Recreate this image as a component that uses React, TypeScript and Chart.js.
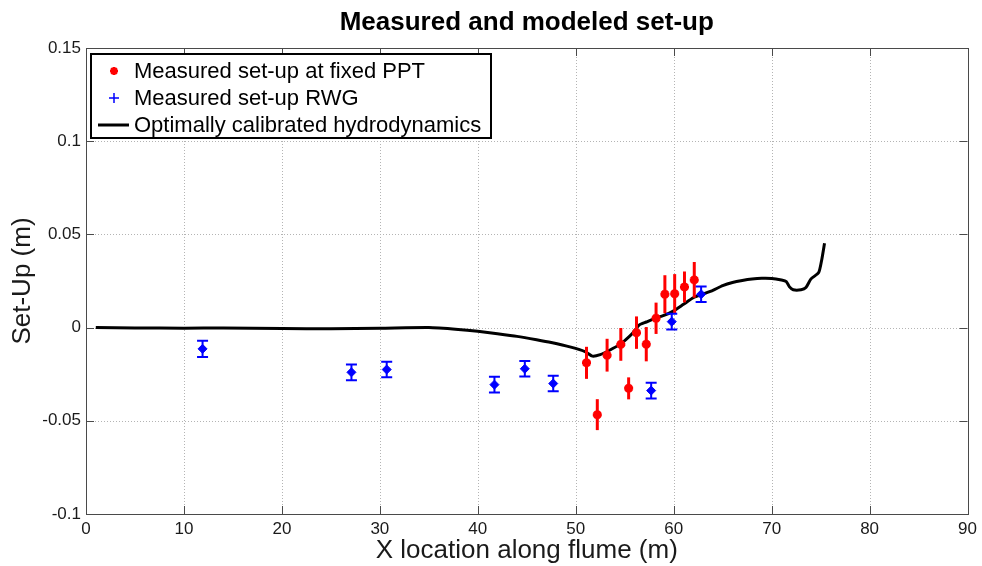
import React, { useEffect, useRef } from "react";
import { Chart, registerables } from "chart.js";

Chart.register(...registerables);

const TITLE = "Measured and modeled set-up";
const X_LABEL = "X location along flume (m)";
const Y_LABEL = "Set-Up (m)";
const LEGEND_LABELS = [
  "Measured set-up at fixed PPT",
  "Measured set-up RWG",
  "Optimally calibrated hydrodynamics",
];

const X_TICKS = [0, 10, 20, 30, 40, 50, 60, 70, 80, 90];
const Y_TICKS = [-0.1, -0.05, 0, 0.05, 0.1, 0.15];
const Y_TICK_LABELS = ["-0.1", "-0.05", "0", "0.05", "0.1", "0.15"];

// Measured set-up at fixed PPT (red)
const pptX = [51.1, 52.2, 53.2, 54.6, 55.4, 56.2, 57.2, 58.2, 59.1, 60.1, 61.1, 62.1];
const pptY = [-0.0189, -0.0467, -0.0148, -0.009, -0.0326, -0.0027, -0.0089, 0.005, 0.0179, 0.0182, 0.0218, 0.0256];
const pptErr = [0.0086, 0.0083, 0.0088, 0.0088, 0.0059, 0.0087, 0.0092, 0.0084, 0.0102, 0.0105, 0.0083, 0.0096];

// Measured set-up RWG (blue)
const rwgX = [11.9, 27.1, 30.7, 41.7, 44.8, 47.7, 57.7, 59.8, 62.8];
const rwgY = [-0.0114, -0.024, -0.0225, -0.0306, -0.0221, -0.03, -0.0338, 0.0032, 0.0179];
const rwgErr = [0.0044, 0.0042, 0.0042, 0.0042, 0.0042, 0.0042, 0.0042, 0.0042, 0.0042];

// Optimally calibrated hydrodynamics (black line)
const modelX = [1, 5, 10, 14, 20, 25, 30, 35, 38, 40, 42, 44, 46, 47.5, 49.5, 51, 51.7, 52.5, 53.5, 54.5, 55.2, 55.8, 56.5, 57.2, 58, 59, 60, 61, 62, 63, 64, 65, 66, 67, 68, 69, 70, 71, 71.5, 71.8, 72.2, 73, 73.5, 74, 74.8, 75.1, 75.4];
const modelY = [0, -0.0002, -0.0003, -0.0002, -0.0005, -0.0006, -0.0004, 0, -0.001, -0.002, -0.0033, -0.0047, -0.0065, -0.008, -0.0105, -0.013, -0.0153, -0.0145, -0.012, -0.009, -0.006, -0.003, 0.0015, 0.003, 0.0047, 0.0065, 0.009, 0.0125, 0.016, 0.018, 0.02, 0.0225, 0.0242, 0.0253, 0.0261, 0.0265, 0.0264, 0.0255, 0.0247, 0.022, 0.0203, 0.0203, 0.0215, 0.026, 0.0295, 0.036, 0.0453];

const FONT = "'Liberation Sans', Arial, Helvetica, sans-serif";

const decorPlugin = {
  id: "decor",
  beforeDatasetsDraw(chart: any) {
    const { ctx, chartArea: a, scales } = chart;
    ctx.save();
    ctx.strokeStyle = "#b4b4b4";
    ctx.lineWidth = 1;
    ctx.setLineDash([1, 2]);
    X_TICKS.forEach((v) => {
      const px = Math.round(scales.x.getPixelForValue(v)) + 0.5;
      if (v === X_TICKS[0] || v === X_TICKS[X_TICKS.length - 1]) return;
      ctx.beginPath();
      ctx.moveTo(px, a.top);
      ctx.lineTo(px, a.bottom);
      ctx.stroke();
    });
    Y_TICKS.forEach((v) => {
      const py = Math.round(scales.y.getPixelForValue(v)) + 0.5;
      if (v === Y_TICKS[0] || v === Y_TICKS[Y_TICKS.length - 1]) return;
      ctx.beginPath();
      ctx.moveTo(a.left, py);
      ctx.lineTo(a.right, py);
      ctx.stroke();
    });
    ctx.restore();
  },
  afterDatasetDraw(chart: any, args: any) {
    if (args.index !== 2) return;
    const { ctx, scales } = chart;
    ctx.save();
    // red error bars (no caps)
    ctx.strokeStyle = "#ff0000";
    ctx.lineWidth = 3;
    pptX.forEach((x, i) => {
      const px = scales.x.getPixelForValue(x);
      ctx.beginPath();
      ctx.moveTo(px, scales.y.getPixelForValue(pptY[i] - pptErr[i]));
      ctx.lineTo(px, scales.y.getPixelForValue(pptY[i] + pptErr[i]));
      ctx.stroke();
    });
    // blue error bars with caps
    ctx.strokeStyle = "#0000ff";
    ctx.lineWidth = 2;
    rwgX.forEach((x, i) => {
      const px = scales.x.getPixelForValue(x);
      const y1 = scales.y.getPixelForValue(rwgY[i] - rwgErr[i]);
      const y2 = scales.y.getPixelForValue(rwgY[i] + rwgErr[i]);
      ctx.beginPath();
      ctx.moveTo(px, y1);
      ctx.lineTo(px, y2);
      ctx.moveTo(px - 5.5, y1);
      ctx.lineTo(px + 5.5, y1);
      ctx.moveTo(px - 5.5, y2);
      ctx.lineTo(px + 5.5, y2);
      ctx.stroke();
    });
    ctx.restore();
  },
  afterDraw(chart: any) {
    const { ctx, chartArea: a, scales } = chart;
    ctx.save();
    // box
    ctx.strokeStyle = "#4a4a4a";
    ctx.lineWidth = 1;
    ctx.setLineDash([]);
    ctx.strokeRect(Math.round(a.left) + 0.5, Math.round(a.top) + 0.5, Math.round(a.right - a.left), Math.round(a.bottom - a.top));
    // inward ticks
    const tl = 8;
    X_TICKS.forEach((v) => {
      const px = Math.round(scales.x.getPixelForValue(v)) + 0.5;
      ctx.beginPath();
      ctx.moveTo(px, a.bottom);
      ctx.lineTo(px, a.bottom - tl);
      ctx.moveTo(px, a.top);
      ctx.lineTo(px, a.top + tl);
      ctx.stroke();
    });
    Y_TICKS.forEach((v) => {
      const py = Math.round(scales.y.getPixelForValue(v)) + 0.5;
      ctx.beginPath();
      ctx.moveTo(a.left, py);
      ctx.lineTo(a.left + tl, py);
      ctx.moveTo(a.right, py);
      ctx.lineTo(a.right - tl, py);
      ctx.stroke();
    });

    const cx = (a.left + a.right) / 2;
    const cy = (a.top + a.bottom) / 2;
    ctx.fillStyle = "#000";
    ctx.textAlign = "center";
    ctx.textBaseline = "middle";
    ctx.font = `bold 26px ${FONT}`;
    ctx.fillText(TITLE, cx, 23);
    ctx.font = `26px ${FONT}`;
    ctx.fillStyle = "#1a1a1a";
    ctx.fillText(X_LABEL, cx, 551);
    ctx.save();
    ctx.translate(23, cy);
    ctx.rotate(-Math.PI / 2);
    ctx.fillText(Y_LABEL, 0, 0);
    ctx.restore();

    // legend
    const lx = 91, ly = 54, lw = 400, lh = 84;
    ctx.fillStyle = "#fff";
    ctx.fillRect(lx, ly, lw, lh);
    ctx.strokeStyle = "#000";
    ctx.lineWidth = 2;
    ctx.strokeRect(lx, ly, lw, lh);
    const rows = [71, 98, 125];
    ctx.font = `22px ${FONT}`;
    ctx.textAlign = "left";
    ctx.fillStyle = "#000";
    LEGEND_LABELS.forEach((t, i) => ctx.fillText(t, 134, rows[i] + 1));
    // red marker
    ctx.strokeStyle = "#ff0000";
    ctx.lineWidth = 2.5;
    const mx = 114;
    ctx.beginPath();
    for (let k = 0; k < 4; k++) {
      const ang = (k * Math.PI) / 4;
      ctx.moveTo(mx - 4 * Math.cos(ang), rows[0] - 4 * Math.sin(ang));
      ctx.lineTo(mx + 4 * Math.cos(ang), rows[0] + 4 * Math.sin(ang));
    }
    ctx.stroke();
    // blue plus
    ctx.strokeStyle = "#0000ff";
    ctx.lineWidth = 1.5;
    ctx.beginPath();
    ctx.moveTo(mx - 5, rows[1]);
    ctx.lineTo(mx + 5, rows[1]);
    ctx.moveTo(mx, rows[1] - 5);
    ctx.lineTo(mx, rows[1] + 5);
    ctx.stroke();
    // black line
    ctx.strokeStyle = "#000";
    ctx.lineWidth = 3;
    ctx.beginPath();
    ctx.moveTo(98, rows[2]);
    ctx.lineTo(129, rows[2]);
    ctx.stroke();
    ctx.restore();
  },
};

export default function App() {
  const ref = useRef<HTMLCanvasElement | null>(null);
  useEffect(() => {
    if (!ref.current) return;
    const chart = new Chart(ref.current, {
      type: "scatter",
      data: {
        datasets: [
          {
            label: LEGEND_LABELS[0],
            data: pptX.map((x, i) => ({ x, y: pptY[i] })),
            pointStyle: "star",
            pointRadius: 4.5,
            pointBorderWidth: 3,
            pointBackgroundColor: "#ff0000",
            pointBorderColor: "#ff0000",
            showLine: false,
          },
          {
            label: LEGEND_LABELS[1],
            data: rwgX.map((x, i) => ({ x, y: rwgY[i] })),
            pointStyle: "rectRot",
            pointRadius: 4.5,
            pointBorderWidth: 1,
            pointBackgroundColor: "#0000ff",
            pointBorderColor: "#0000ff",
            showLine: false,
          },
          {
            label: LEGEND_LABELS[2],
            data: modelX.map((x, i) => ({ x, y: modelY[i] })),
            showLine: true,
            borderColor: "#000",
            borderWidth: 3,
            pointRadius: 0,
            tension: 0.2,
          },
        ],
      },
      options: {
        animation: false,
        responsive: false,
        maintainAspectRatio: false,
        layout: { padding: { top: 48, right: 14, left: 0, bottom: 0 } },
        plugins: {
          legend: { display: false },
          title: { display: false },
          tooltip: { enabled: false },
        },
        scales: {
          x: {
            type: "linear",
            min: 0,
            max: 90,
            afterBuildTicks: (s: any) => {
              s.ticks = X_TICKS.map((v) => ({ value: v }));
            },
            afterFit: (s: any) => {
              s.height = 52;
            },
            ticks: {
              padding: 5,
              color: "#1a1a1a",
              font: { family: FONT, size: 17 },
              maxRotation: 0,
              autoSkip: false,
              callback: (v: any) => String(v),
            },
            grid: { display: false, drawTicks: false },
            border: { display: false },
          },
          y: {
            type: "linear",
            min: -0.1,
            max: 0.15,
            afterBuildTicks: (s: any) => {
              s.ticks = Y_TICKS.map((v) => ({ value: v }));
            },
            afterFit: (s: any) => {
              s.width = 86;
            },
            ticks: {
              padding: 5,
              color: "#1a1a1a",
              font: { family: FONT, size: 17 },
              autoSkip: false,
              callback: (v: any) => {
                const i = Y_TICKS.indexOf(v);
                return i >= 0 ? Y_TICK_LABELS[i] : "";
              },
            },
            grid: { display: false, drawTicks: false },
            border: { display: false },
          },
        },
      },
      plugins: [decorPlugin],
    });
    return () => chart.destroy();
  }, []);
  return (
    <div style={{ position: "absolute", left: 0, top: 0, width: 982, height: 566, background: "#fff" }}>
      <canvas ref={ref} width={982} height={566} style={{ display: "block" }} />
    </div>
  );
}
